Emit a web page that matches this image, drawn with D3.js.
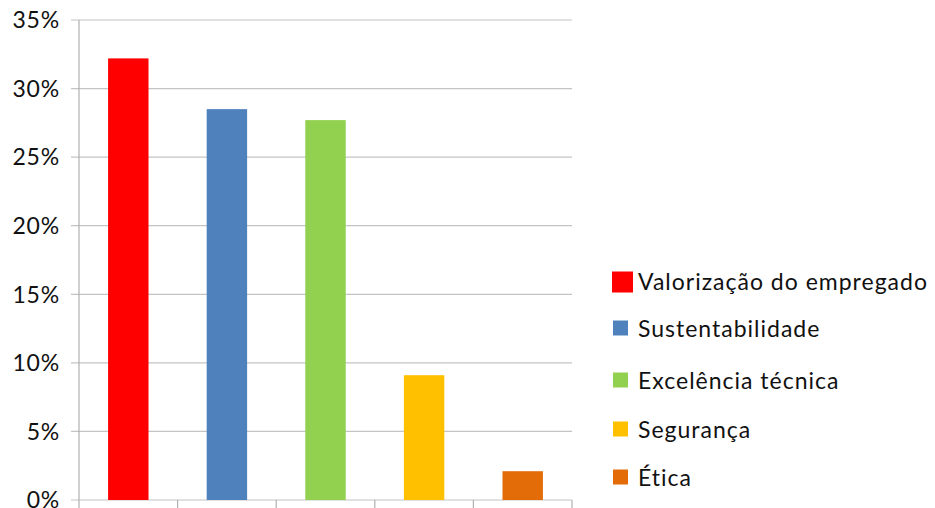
<!DOCTYPE html>
<html><head><meta charset="utf-8">
<script src="https://cdn.jsdelivr.net/npm/d3@7"></script>
<style>html,body{margin:0;padding:0;background:#fff;overflow:hidden}</style>
</head><body>
<svg id="c" width="935" height="508"></svg>
<script>
const categories = ["Valorização do empregado","Sustentabilidade","Excelência técnica","Segurança","Ética"];
const values = [32.2, 28.5, 27.7, 9.1, 2.1];
const colors = ["#FF0000","#4F81BD","#92D050","#FFC000","#E36C09"];
const yTicks = [0,5,10,15,20,25,30,35];

(function(){
const svg = d3.select("#c");
const font = "Lato, 'Open Sans', sans-serif";
const mLeft = 79, mRight = 572, mTop = 20, mBottom = 500;

const x = d3.scaleBand().domain(categories).range([mLeft, mRight]).paddingInner(0.59).paddingOuter(0.295);
const xb = d3.scaleBand().domain(categories).range([mLeft, mRight]);
const y = d3.scaleLinear().domain([0,35]).range([mBottom, mTop]);

svg.append("g").selectAll("line").data(yTicks).join("line")
  .attr("x1", mLeft - 8).attr("x2", mRight).attr("y1", d=>y(d)).attr("y2", d=>y(d))
  .attr("stroke", "#c4c4c4").attr("stroke-width", 1.2);

svg.append("line").attr("x1", mLeft).attr("x2", mLeft).attr("y1", mTop).attr("y2", 508)
  .attr("stroke", "#b0b0b0").attr("stroke-width", 1.2);

const xt = categories.map(c => xb(c)).concat([mRight]);
svg.append("g").selectAll("line").data(xt.slice(1)).join("line")
  .attr("x1", d=>d).attr("x2", d=>d).attr("y1", mBottom).attr("y2", 508)
  .attr("stroke", "#b0b0b0").attr("stroke-width", 1.2);

svg.append("g").selectAll("text").data(yTicks).join("text")
  .attr("x", 60).attr("y", d=>y(d)).attr("dy", "0.36em")
  .attr("text-anchor", "end").attr("font-family", font).attr("font-size", 23)
  .attr("letter-spacing", "0.8px")
  .attr("fill", "#111").text(d => d + "%");

svg.append("g").selectAll("rect").data(values).join("rect")
  .attr("x", (d,i)=>x(categories[i])).attr("width", x.bandwidth())
  .attr("y", d=>y(d)).attr("height", d=>y(0)-y(d))
  .attr("fill", (d,i)=>colors[i]);

const lg = svg.append("g");
const rowY = [282, 329, 381, 430, 478];
categories.forEach((c,i) => {
  const s = i===0 ? 21 : 15;
  lg.append("rect").attr("x", i===0 ? 612 : 613).attr("y", rowY[i] - s/2 + (i===0?0:-1)).attr("width", s).attr("height", s).attr("fill", colors[i]);
  lg.append("text").attr("x", 638).attr("y", rowY[i]).attr("dy", "0.36em")
    .attr("font-family", font).attr("font-size", 23).attr("fill", "#111")
    .attr("letter-spacing", "1px").text(c);
});
})();
</script>
</body></html>
